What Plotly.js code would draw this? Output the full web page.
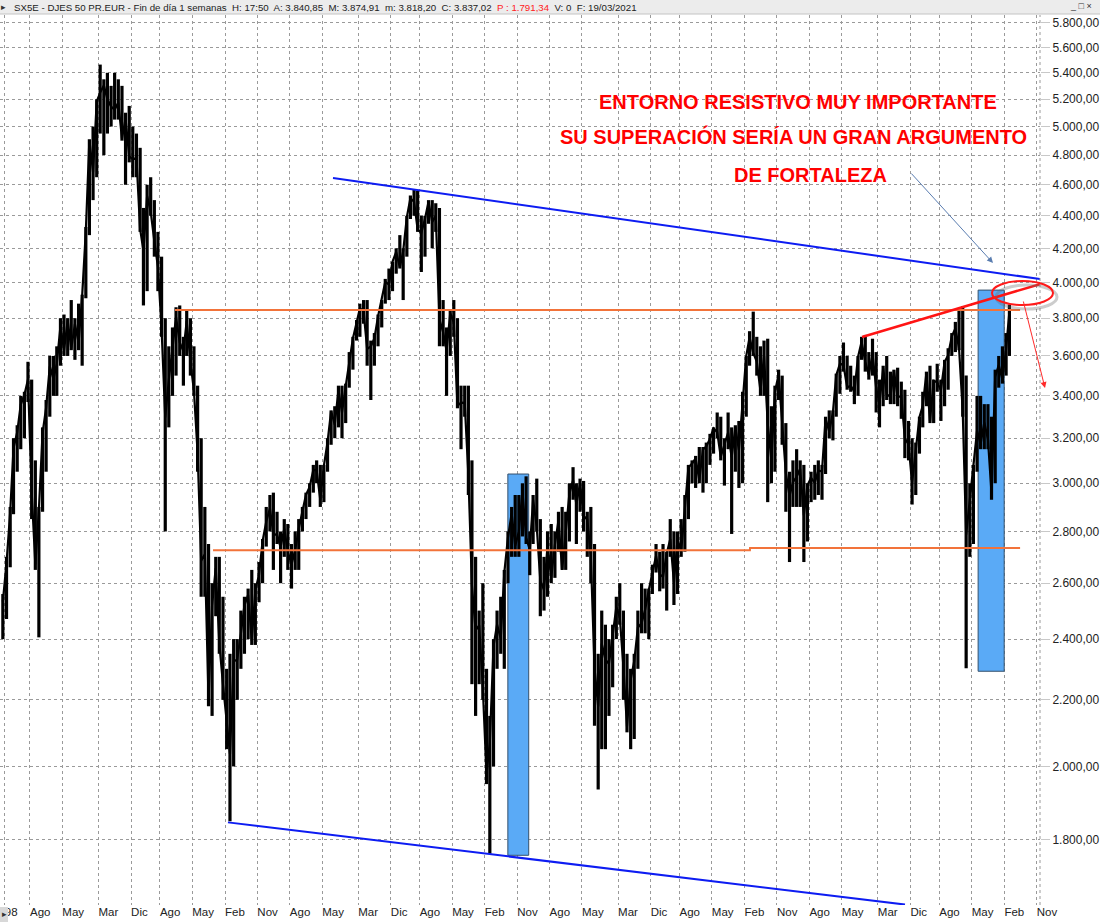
<!DOCTYPE html>
<html><head><meta charset="utf-8">
<script src="https://cdn.plot.ly/plotly-3.0.1.min.js"></script>
<style>html,body{margin:0;padding:0;background:#fff}#chart{width:1100px;height:923px}</style>
</head><body><div id="chart"></div>
<script>
// First monthly bar: December 1997
const START_YEAR = 1997, START_MONTH = 12;

const monthlyHigh = [
  2560, // 1997-12
  2700, 2900, 3200, 3260, 3400, 3420, 3570, 3480, 3100, 2900, 3250, 3380, // 1998
  3600, 3600, 3650, 3800, 3820, 3800, 3900, 3800, 3880, 3930, 4330, 4910, // 1999
  5000, 5200, 5464, 5350, 5400, 5300, 5400, 5350, 5300, 5100, 5150, 5000, // 2000
  4950, 4850, 4450, 4600, 4650, 4500, 4300, 4150, 3800, 3650, 3750, 3860, // 2001
  3870, 3700, 3850, 3800, 3650, 3450, 3200, 2900, 2750, 2600, 2700, 2700, // 2002
  2550, 2300, 2350, 2400, 2400, 2500, 2550, 2580, 2650, 2600, 2680, 2770, // 2003
  2900, 2950, 2960, 2880, 2800, 2850, 2830, 2750, 2800, 2850, 2900, 2960, // 2004
  3000, 3080, 3100, 3080, 3080, 3200, 3330, 3350, 3450, 3450, 3460, 3620, // 2005
  3700, 3790, 3880, 3900, 3900, 3680, 3720, 3820, 3900, 4020, 4080, 4120, // 2006
  4200, 4280, 4200, 4400, 4530, 4570, 4560, 4400, 4400, 4500, 4500, 4480, // 2007
  4450, 3900, 3750, 3850, 3900, 3800, 3450, 3450, 3450, 3100, 2700, 2500, // 2008
  2600, 2300, 2150, 2400, 2500, 2550, 2650, 2800, 2900, 2950, 2950, 3000, // 2009
  3030, 2800, 2950, 3020, 2850, 2700, 2800, 2830, 2800, 2880, 2900, 2880, // 2010
  3000, 3070, 3000, 3020, 3010, 2880, 2900, 2750, 2350, 2500, 2450, 2400, // 2011
  2450, 2550, 2600, 2500, 2350, 2300, 2350, 2500, 2600, 2580, 2580, 2670, // 2012
  2750, 2720, 2750, 2720, 2850, 2800, 2800, 2850, 2950, 3080, 3100, 3120, // 2013
  3160, 3160, 3180, 3220, 3250, 3320, 3300, 3200, 3320, 3250, 3260, 3280, // 2014
  3420, 3600, 3730, 3836, 3700, 3650, 3680, 3690, 3350, 3450, 3530, 3500, // 2015
  3270, 3050, 3100, 3150, 3100, 3080, 3000, 3050, 3080, 3100, 3080, 3300, // 2016
  3330, 3330, 3510, 3600, 3670, 3600, 3550, 3500, 3600, 3700, 3710, 3620, // 2017
  3690, 3620, 3480, 3550, 3600, 3520, 3530, 3540, 3470, 3430, 3280, 3200, // 2018
  3180, 3300, 3420, 3520, 3550, 3480, 3560, 3480, 3580, 3640, 3720, 3780, // 2019
  3850, 3867, 3500, 3000, 3080, 3400, 3400, 3360, 3360, 3300, 3530, 3600, // 2020
  3650, 3720, 3875                                                          // 2021
];

const monthlyLow = [
  2400, // 1997-12
  2470, 2660, 2870, 3050, 3150, 3200, 3370, 2850, 2650, 2406, 2880, 3050, // 1998
  3300, 3400, 3400, 3550, 3600, 3600, 3630, 3580, 3630, 3550, 3910, 4280, // 1999
  4500, 4650, 4950, 4800, 4950, 5000, 5050, 5050, 4900, 4600, 4750, 4650, // 2000
  4650, 4300, 3870, 3950, 4400, 4150, 3950, 3700, 2800, 3250, 3400, 3500, // 2001
  3600, 3450, 3600, 3500, 3400, 3050, 2550, 2550, 2180, 2150, 2480, 2350, // 2002
  2200, 2050, 1849, 2000, 2200, 2300, 2350, 2400, 2380, 2380, 2530, 2600, // 2003
  2740, 2800, 2650, 2750, 2600, 2700, 2650, 2580, 2650, 2650, 2800, 2850, // 2004
  2900, 2960, 3000, 2900, 2920, 3050, 3170, 3200, 3250, 3200, 3270, 3440, // 2005
  3530, 3680, 3700, 3770, 3550, 3380, 3550, 3650, 3750, 3880, 3900, 3950, // 2006
  4050, 4080, 3900, 4150, 4380, 4400, 4300, 4060, 4150, 4350, 4200, 4300, // 2007
  3650, 3650, 3400, 3600, 3700, 3340, 3150, 3300, 2950, 2250, 2150, 2250, // 2008
  2200, 1950, 1765, 2000, 2300, 2350, 2300, 2600, 2700, 2700, 2700, 2780, // 2009
  2750, 2630, 2750, 2800, 2480, 2500, 2550, 2600, 2620, 2720, 2650, 2650, // 2010
  2760, 2930, 2750, 2880, 2800, 2700, 2600, 2120, 1935, 2050, 2050, 2150, // 2011
  2240, 2400, 2450, 2200, 2100, 2050, 2080, 2300, 2420, 2420, 2400, 2560, // 2012
  2640, 2570, 2580, 2500, 2700, 2520, 2560, 2700, 2720, 2850, 3000, 2980, // 2013
  3000, 2960, 3000, 3080, 3130, 3200, 3100, 2990, 3150, 2790, 3050, 2980, // 2014
  3000, 3300, 3550, 3600, 3500, 3400, 3400, 2920, 3000, 3050, 3380, 3170, // 2015
  2880, 2680, 2900, 2900, 2900, 2680, 2760, 2920, 2930, 2950, 2930, 3040, // 2016
  3200, 3190, 3300, 3410, 3520, 3430, 3420, 3360, 3400, 3580, 3520, 3480, // 2017
  3500, 3320, 3250, 3350, 3380, 3360, 3360, 3350, 3290, 3110, 3100, 2910, // 2018
  2950, 3130, 3250, 3350, 3270, 3270, 3420, 3280, 3350, 3430, 3600, 3620, // 2019
  3630, 3300, 2302, 2700, 2750, 3050, 3150, 3150, 3150, 2930, 3000, 3440, // 2020
  3460, 3500, 3600                                                          // 2021
];

const monthlyClose = [
  2532, // 1997-12
  2676, 2878, 3154, 3227, 3358, 3406, 3480, 2966, 2671, 2887, 3223, 3342, // 1998
  3547, 3484, 3559, 3757, 3629, 3788, 3638, 3769, 3669, 3922, 4305, 4904, // 1999
  4684, 5182, 5249, 5303, 5200, 5145, 5122, 5175, 4915, 5057, 4791, 4772, // 2000
  4779, 4318, 4185, 4526, 4426, 4243, 4092, 3744, 3297, 3478, 3658, 3806, // 2001
  3670, 3625, 3784, 3574, 3425, 3133, 2685, 2710, 2204, 2519, 2657, 2386, // 2002
  2249, 2141, 2036, 2325, 2330, 2419, 2519, 2557, 2395, 2575, 2631, 2761, // 2003
  2839, 2894, 2787, 2788, 2737, 2811, 2720, 2671, 2726, 2811, 2876, 2951, // 2004
  2984, 3058, 3056, 2930, 3076, 3182, 3327, 3263, 3429, 3320, 3447, 3579, // 2005
  3691, 3775, 3854, 3839, 3637, 3649, 3692, 3809, 3899, 4004, 3987, 4120, // 2006
  4178, 4088, 4182, 4392, 4512, 4489, 4315, 4294, 4381, 4489, 4361, 4400, // 2007
  3792, 3725, 3628, 3826, 3778, 3352, 3367, 3366, 3038, 2592, 2430, 2448, // 2008
  2237, 1977, 2071, 2375, 2451, 2401, 2639, 2776, 2873, 2743, 2800, 2966, // 2009
  2776, 2728, 2931, 2817, 2610, 2574, 2742, 2622, 2748, 2845, 2650, 2793, // 2010
  2954, 3013, 2911, 2999, 2862, 2849, 2702, 2302, 2179, 2385, 2330, 2317, // 2011
  2417, 2512, 2477, 2306, 2118, 2264, 2325, 2440, 2455, 2503, 2575, 2636, // 2012
  2703, 2633, 2624, 2712, 2770, 2603, 2768, 2721, 2893, 3068, 3086, 3109, // 2013
  3013, 3149, 3162, 3198, 3245, 3228, 3116, 3172, 3226, 3113, 3251, 3146, // 2014
  3351, 3599, 3697, 3616, 3571, 3424, 3601, 3270, 3101, 3418, 3506, 3268, // 2015
  3045, 2946, 3005, 3028, 3063, 2865, 2991, 3023, 3002, 3055, 3052, 3291, // 2016
  3231, 3320, 3501, 3560, 3555, 3442, 3449, 3422, 3595, 3674, 3570, 3504, // 2017
  3609, 3439, 3362, 3536, 3407, 3396, 3525, 3393, 3399, 3198, 3173, 3001, // 2018
  3159, 3298, 3352, 3515, 3280, 3474, 3467, 3427, 3569, 3604, 3703, 3745, // 2019
  3641, 3329, 2787, 2928, 3050, 3234, 3174, 3273, 3194, 2958, 3493, 3553, // 2020
  3481, 3636, 3837                                                          // 2021
];

// X axis tick positions (left edge of each label) and Spanish labels
const tickDates = ['1998-01-01','1998-08-01','1999-05-01','2000-03-01','2000-12-01','2001-08-01',
  '2002-05-01','2003-02-01','2003-11-01','2004-08-01','2005-05-01','2006-03-01','2006-12-01',
  '2007-08-01','2008-05-01','2009-02-01','2009-11-01','2010-08-01','2011-05-01','2012-03-01',
  '2012-12-01','2013-08-01','2014-05-01','2015-02-01','2015-11-01','2016-08-01','2017-05-01',
  '2018-03-01','2018-12-01','2019-08-01','2020-05-01','2021-02-01','2021-11-01'];
const tickLabels = ['98','Ago','May','Mar','Dic','Ago','May','Feb','Nov','Ago','May','Mar','Dic',
  'Ago','May','Feb','Nov','Ago','May','Mar','Dic','Ago','May','Feb','Nov','Ago','May','Mar','Dic',
  'Ago','May','Feb','Nov'];
const yTickValues = [1800,2000,2200,2400,2600,2800,3000,3200,3400,3600,3800,4000,4200,4400,4600,4800,5000,5200,5400,5600,5800];

// Drawn trend lines / levels (date, value)
const upperBlueX = ['2005-07-31','2021-11-28'], upperBlueY = [4645, 4019];
const lowerBlueX = ['2003-02-26','2018-10-16'], lowerBlueY = [1846, 1641];
const resistX = ['2001-12-06','2021-06-13'], resistY = [3845, 3845];
const supportX = ['2002-10-23','2015-03-18','2015-03-19','2021-06-13'], supportY = [2726, 2726, 2734, 2734];
const redLineX = ['2017-10-19','2021-11-28'], redLineY = [3699, 3990];
const box1X = ['2009-08-14','2010-02-06'], box1Y = [1761, 3040];
const box2X = ['2020-06-24','2021-01-30'], box2Y = [2292, 3956];

const months = monthlyClose.map((_, i) => {
  const m0 = START_MONTH - 1 + i;
  const y = START_YEAR + Math.floor(m0 / 12);
  const m = (m0 % 12) + 1;
  return y + '-' + String(m).padStart(2, '0') + '-15';
});
const hlX = [], hlY = [];
months.forEach((d, i) => { hlX.push(d, d, null); hlY.push(monthlyLow[i], monthlyHigh[i], null); });

function boxTrace(bx, by) {
  return {x: [bx[0], bx[1], bx[1], bx[0], bx[0]], y: [by[0], by[0], by[1], by[1], by[0]],
    type: 'scatter', mode: 'lines', fill: 'toself', fillcolor: '#5aaaf6',
    line: {color: '#34506c', width: 1}, hoverinfo: 'skip', showlegend: false};
}
function lineTrace(x, y, color, width) {
  return {x: x, y: y, type: 'scatter', mode: 'lines', line: {color: color, width: width},
    hoverinfo: 'skip', showlegend: false};
}

const traces = [
  boxTrace(box1X, box1Y),
  boxTrace(box2X, box2Y),
  lineTrace(hlX, hlY, '#000000', 3.2),
  lineTrace(months, monthlyClose, '#000000', 2.2),
  lineTrace(resistX, resistY, '#f2733a', 2),
  lineTrace(supportX, supportY, '#f2733a', 2),
  lineTrace(upperBlueX, upperBlueY, '#0d1cf2', 2),
  lineTrace(lowerBlueX, lowerBlueY, '#0d1cf2', 2),
  lineTrace(redLineX, redLineY, '#ff1414', 2.5)
];

// paper coordinate helpers (plot area: x 0..1040 px, y 15..905 px)
const px = v => v / 1040, py = v => (905 - v) / 890;

const redFont = {family: 'Liberation Sans, Arial, sans-serif', size: 20, color: '#ff0000'};
const layout = {
  width: 1100, height: 923,
  margin: {l: 0, r: 60, t: 15, b: 18},
  paper_bgcolor: '#ffffff', plot_bgcolor: '#ffffff',
  separators: ',.',
  showlegend: false, hovermode: false,
  font: {family: 'Liberation Sans, Arial, sans-serif', size: 12, color: '#222'},
  xaxis: {
    type: 'date', range: ['1997-11-21', '2021-11-28'],
    tickmode: 'array', tickvals: tickDates, ticktext: tickLabels,
    ticklabelposition: 'outside right', tickangle: 0, ticklabelstandoff: -2,
    showgrid: true, gridcolor: '#9a9a9a', griddash: 'dot', gridwidth: 1,
    zeroline: false, showline: false, ticks: '',
    tickfont: {size: 11.5, color: '#222'}
  },
  yaxis: {
    type: 'log', side: 'right',
    range: [Math.log10(1640), Math.log10(5866)],
    tickmode: 'array', tickvals: yTickValues, tickformat: ',.2f',
    showgrid: true, gridcolor: '#9a9a9a', griddash: 'dot', gridwidth: 1,
    zeroline: false, showline: false,
    ticks: 'outside', ticklen: 9, tickcolor: '#c8c8c8', tickwidth: 1,
    tickfont: {size: 12, color: '#222'}
  },
  shapes: [
    {type: 'rect', xref: 'paper', yref: 'paper', x0: px(0), x1: px(1100), y0: py(14), y1: py(0),
      fillcolor: '#ececec', line: {width: 0}, layer: 'above'},
    {type: 'line', xref: 'paper', yref: 'paper', x0: px(0), x1: px(1100), y0: py(14), y1: py(14),
      line: {color: '#c4c4c4', width: 1}, layer: 'above'},
    {type: 'line', xref: 'paper', yref: 'paper', x0: 1, x1: 1, y0: 0, y1: 1,
      line: {color: '#9a9a9a', width: 1, dash: 'dot'}},
    {type: 'rect', xref: 'paper', yref: 'paper', x0: px(0), x1: px(8), y0: py(922), y1: py(907),
      fillcolor: '#d8d8d8', line: {width: 0}, layer: 'above'},
    {type: 'circle', xref: 'paper', yref: 'paper', x0: px(996), x1: px(1057), y0: py(309), y1: py(285),
      line: {color: 'rgba(110,110,110,0.35)', width: 3}, layer: 'above'},
    {type: 'circle', xref: 'paper', yref: 'paper', x0: px(992), x1: px(1053), y0: py(305), y1: py(281),
      line: {color: '#ff1a1a', width: 2}, layer: 'above'}
  ],
  annotations: [
    {xref: 'paper', yref: 'paper', x: px(12), y: py(7), xanchor: 'left', yanchor: 'middle', showarrow: false,
      text: 'SX5E - DJES 50 PR.EUR - Fin de día 1 semanas  H: 17:50  A: 3.840,85  M: 3.874,91  m: 3.818,20  C: 3.837,02  <span style="color:#ff2020">P : 1.791,34</span>  V: 0  F: 19/03/2021',
      font: {family: 'Liberation Sans, Arial, sans-serif', size: 9.7, color: '#222'}},
    {xref: 'paper', yref: 'paper', x: px(3), y: py(7), xanchor: 'center', yanchor: 'middle', showarrow: false,
      text: '▸', font: {size: 9, color: '#333'}},
    {xref: 'paper', yref: 'paper', x: px(4), y: py(914), xanchor: 'center', yanchor: 'middle', showarrow: false,
      text: '▸', font: {size: 9, color: '#333'}},
    {xref: 'paper', yref: 'paper', x: px(1081), y: py(6), xanchor: 'center', yanchor: 'middle', showarrow: false,
      text: '_ □ ×', font: {size: 9, color: '#333'}},
    {xref: 'paper', yref: 'paper', x: px(798), y: py(102), showarrow: false, xanchor: 'center', yanchor: 'middle',
      text: '<b>ENTORNO RESISTIVO MUY IMPORTANTE</b>', font: redFont},
    {xref: 'paper', yref: 'paper', x: px(793), y: py(136), showarrow: false, xanchor: 'center', yanchor: 'middle',
      text: '<b>SU SUPERACIÓN SERÍA UN GRAN ARGUMENTO</b>', font: redFont},
    {xref: 'paper', yref: 'paper', x: px(810), y: py(175), showarrow: false, xanchor: 'center', yanchor: 'middle',
      text: '<b>DE FORTALEZA</b>', font: redFont},
    {xref: 'paper', yref: 'paper', x: px(993), y: py(263), text: '', showarrow: true,
      ax: -83, ay: -91, arrowhead: 2, arrowsize: 1.2, arrowwidth: 1, arrowcolor: '#5a7db0'},
    {xref: 'paper', yref: 'paper', x: px(1045), y: py(388), text: '', showarrow: true,
      ax: -22, ay: -88, arrowhead: 2, arrowsize: 1.2, arrowwidth: 1, arrowcolor: '#ff2a2a'}
  ]
};

Plotly.newPlot('chart', traces, layout, {displayModeBar: false, staticPlot: true});
</script>
</body></html>
